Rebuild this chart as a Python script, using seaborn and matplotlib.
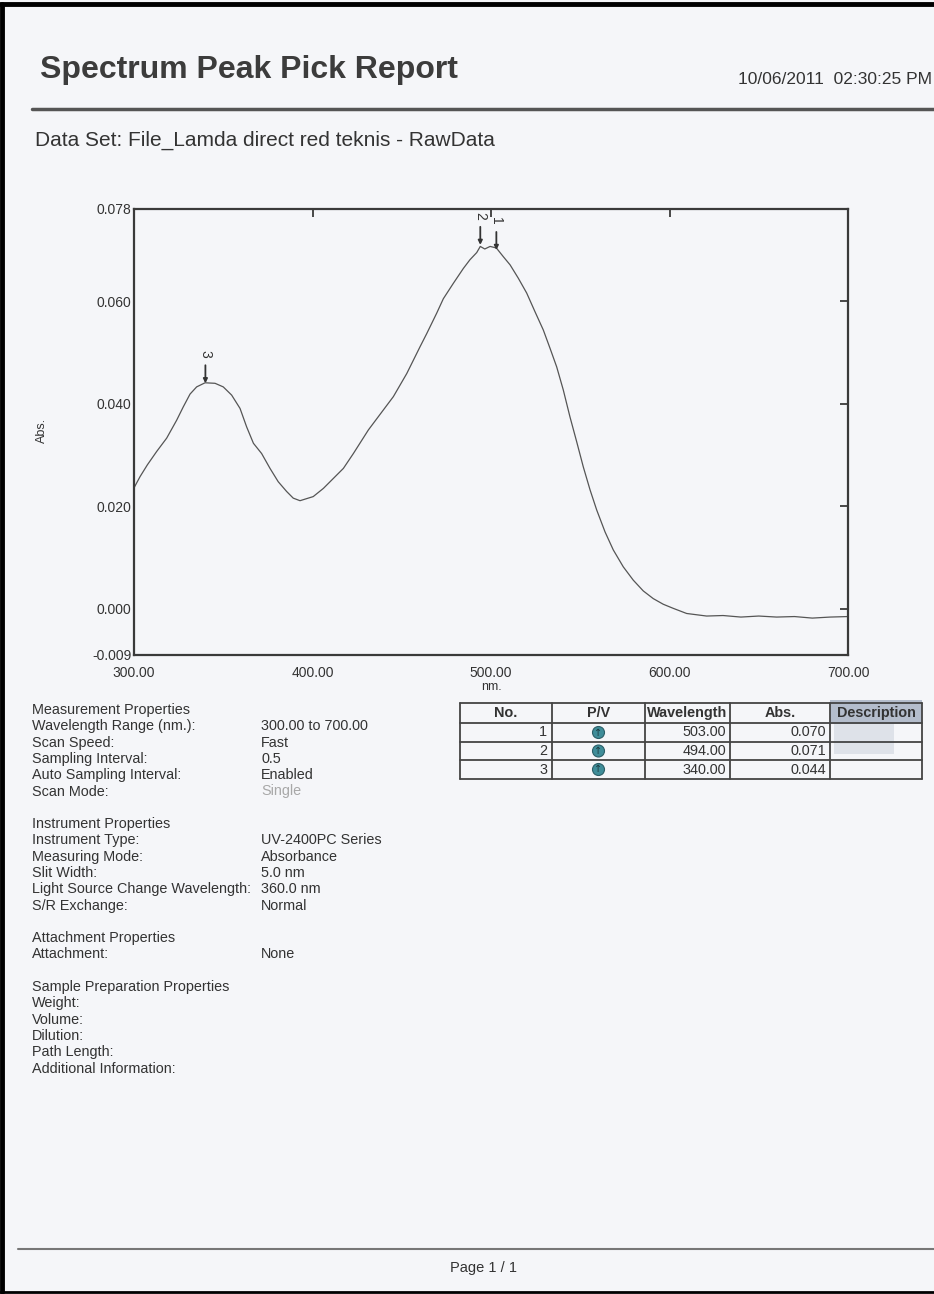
import numpy as np
import pandas as pd
import matplotlib.pyplot as plt
import seaborn as sns
from matplotlib.patches import Rectangle, Circle

# spectrum (nm, Abs.)
wavelength = [300, 303.4, 307.5, 312.7, 318.3, 323.9, 327.6, 331.4, 335.1, 339.8,
              345.4, 350.0, 354.7, 359.4, 363.1, 366.9, 371.5, 376.2, 380.8, 385.5,
              389.2, 393.0, 400.4, 406.1, 417.3, 422.9, 431.3, 439.7, 445.3, 452.8,
              460.2, 464.0, 469.6, 473.3, 478.9, 484.5, 488.2, 492.0, 494.0, 496.5,
              499.5, 503.0, 506.9, 510.7, 515.3, 520.0, 524.6, 529.3, 533.1, 536.8,
              540.5, 544.2, 548.0, 551.7, 555.5, 559.2, 563.9, 568.5, 574.1, 579.7,
              585.3, 590.9, 596.5, 602.1, 609.6, 620.8, 630, 640, 650, 660, 670, 680,
              690, 700]
absorbance = [0.0236, 0.0258, 0.0281, 0.0307, 0.0333, 0.0368, 0.0394, 0.0419, 0.0433,
              0.0441, 0.0440, 0.0433, 0.0417, 0.0391, 0.0355, 0.0323, 0.0303, 0.0274,
              0.0248, 0.0229, 0.0216, 0.0211, 0.0219, 0.0235, 0.0274, 0.0303, 0.0349,
              0.0388, 0.0414, 0.0459, 0.0511, 0.0537, 0.0577, 0.0605, 0.0635, 0.0664,
              0.0681, 0.0695, 0.0707, 0.0702, 0.0707, 0.0704, 0.0687, 0.0671, 0.0645,
              0.0616, 0.0580, 0.0544, 0.0508, 0.0472, 0.0427, 0.0375, 0.0326, 0.0277,
              0.0232, 0.0193, 0.0150, 0.0115, 0.0082, 0.0056, 0.0035, 0.0020, 0.0009,
              0.0001, -0.0009, -0.0014, -0.0013, -0.0016, -0.0014, -0.0016, -0.0015,
              -0.0018, -0.0016, -0.0015]

peak_no = [1, 2, 3]
peak_wl = [503.00, 494.00, 340.00]
peak_abs = [0.070, 0.071, 0.044]

x_ticks = [300, 400, 500, 600, 700]
y_ticks = [-0.009, 0.000, 0.020, 0.040, 0.060, 0.078]

prop_labels = ["Measurement Properties", "Wavelength Range (nm.):", "Scan Speed:",
               "Sampling Interval:", "Auto Sampling Interval:", "Scan Mode:", "",
               "Instrument Properties", "Instrument Type:", "Measuring Mode:",
               "Slit Width:", "Light Source Change Wavelength:", "S/R Exchange:", "",
               "Attachment Properties", "Attachment:", "",
               "Sample Preparation Properties", "Weight:", "Volume:", "Dilution:",
               "Path Length:", "Additional Information:"]
prop_values = ["", "300.00 to 700.00", "Fast", "0.5", "Enabled", "Single", "",
               "", "UV-2400PC Series", "Absorbance", "5.0 nm", "360.0 nm", "Normal", "",
               "", "None", "", "", "", "", "", "", ""]

table_cols = ["No.", "P/V", "Wavelength", "Abs.", "Description"]

PAPER = "#f5f6f9"
INK = "#333333"
W, H = 934, 1294

sns.set_theme(style="white")
plt.rcParams["font.family"] = ["Liberation Sans", "DejaVu Sans"]

fig = plt.figure(figsize=(W / 100, H / 100), dpi=100, facecolor=PAPER)

# page layer in pixel coordinates
page = fig.add_axes([0, 0, 1, 1], zorder=0)
page.set_xlim(0, W)
page.set_ylim(H, 0)
page.axis("off")

page.plot([2, 2], [4, H - 2], color="black", lw=3.5)
page.plot([0, W], [4, 4], color="black", lw=3.5)
page.plot([0, W], [H - 2, H - 2], color="black", lw=2)

page.text(40, 70, "Spectrum Peak Pick Report", fontsize=23, fontweight="bold",
          color="#3c3c3c", va="center")
page.text(738, 80, "10/06/2011  02:30:25 PM", fontsize=12.5, color=INK, va="center")
page.plot([32, W], [109, 109], color="#555555", lw=2.5)
page.text(35, 140, "Data Set: File_Lamda direct red teknis - RawData", fontsize=15,
          color=INK, va="center")

# properties block
for i, (lab, val) in enumerate(zip(prop_labels, prop_values)):
    yy = 710 + i * 16.3
    page.text(32, yy, lab, fontsize=10.4, color=INK, va="center")
    page.text(261, yy, val, fontsize=10.4, va="center",
              color="#a8a8a8" if lab == "Scan Mode:" else INK)

# peak table
col_x = [460, 552, 645, 730, 830, 922]
row_y = [703, 723, 742, 760, 779]
page.add_patch(Rectangle((830, 700), 92, 24, color="#7f8fa8", alpha=0.55, lw=0))
page.add_patch(Rectangle((834, 724), 60, 30, color="#b4bfcc", alpha=0.35, lw=0))
for x in col_x:
    page.plot([x, x], [row_y[0], row_y[-1]], color="#444444", lw=1.3)
for y in row_y:
    page.plot([col_x[0], col_x[-1]], [y, y], color="#444444", lw=1.3)
for j, name in enumerate(table_cols):
    page.text((col_x[j] + col_x[j + 1]) / 2, (row_y[0] + row_y[1]) / 2, name,
              fontsize=10.4, fontweight="bold", ha="center", va="center", color=INK)
for r, (n, w, a) in enumerate(zip(peak_no, peak_wl, peak_abs)):
    yc = (row_y[r + 1] + row_y[r + 2]) / 2
    page.text(col_x[1] - 5, yc, str(n), fontsize=10.4, ha="right", va="center", color=INK)
    page.add_patch(Circle(((col_x[1] + col_x[2]) / 2, yc), 6, facecolor="#3f8d99",
                          edgecolor="#2c5f68", lw=0.8))
    page.text((col_x[1] + col_x[2]) / 2, yc, "\u2191", fontsize=7, ha="center",
              va="center", color="#1c3c42", family="DejaVu Sans")
    page.text(col_x[3] - 4, yc, f"{w:.2f}", fontsize=10.4, ha="right", va="center", color=INK)
    page.text(col_x[4] - 4, yc, f"{a:.3f}", fontsize=10.4, ha="right", va="center", color=INK)

# footer
page.plot([18, W], [1249, 1249], color="#777777", lw=1.5)
page.text(483, 1268, "Page 1 / 1", fontsize=10.5, ha="center", va="center", color=INK)

# spectrum axes
ax = fig.add_axes([134 / W, 1 - 655 / H, 714 / W, 446 / H], zorder=1)
ax.set_facecolor("none")
df = pd.DataFrame({"nm": wavelength, "abs": absorbance})
sns.lineplot(data=df, x="nm", y="abs", ax=ax, color="#555555", lw=0.9, estimator=None)

for n, w, a in zip(peak_no, peak_wl, peak_abs):
    ax.annotate("", xy=(w, a), xytext=(0, 13), textcoords="offset points",
                arrowprops=dict(arrowstyle="-|>", color="#333333", lw=1.3,
                                mutation_scale=6, shrinkA=0, shrinkB=0))
    ax.annotate(str(n), xy=(w, a), xytext=(0, 21), textcoords="offset points",
                rotation=270, ha="center", va="center", fontsize=10, color=INK)

ax.set_xlim(300, 700)
ax.set_ylim(-0.009, 0.078)
ax.set_xticks(x_ticks)
ax.set_xticklabels([f"{t:.2f}" for t in x_ticks])
ax.set_yticks(y_ticks)
ax.set_yticklabels([f"{t:.3f}" for t in y_ticks])
ax.tick_params(direction="in", length=6, width=1.3, color="#3a3a3a", top=True,
               right=True, labelsize=10, labelcolor=INK)
ax.tick_params(axis="x", pad=8)
ax.tick_params(axis="y", pad=2)
for s in ax.spines.values():
    s.set_color("#3a3a3a")
    s.set_linewidth(1.6)
ax.set_xlabel("nm.", fontsize=9, color=INK, labelpad=1)
ax.set_ylabel("Abs.", fontsize=9, color=INK)
ax.yaxis.set_label_coords(-0.12, 0.504)

fig.savefig("out.png", dpi=100, facecolor=PAPER)
